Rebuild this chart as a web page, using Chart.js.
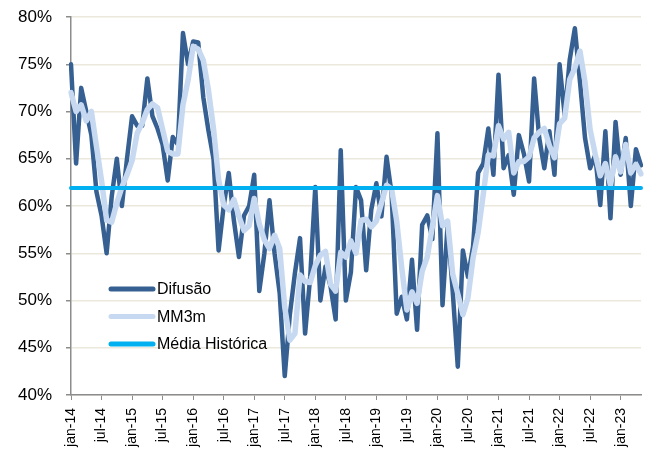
<!DOCTYPE html>
<html>
<head>
<meta charset="utf-8">
<script src="https://cdn.jsdelivr.net/npm/chart.js@4.4.0/dist/chart.umd.min.js"></script>
<style>
  html, body { margin: 0; padding: 0; background: #fff; }
  #chart { display: block; }
</style>
</head>
<body>
<canvas id="chart" width="650" height="456"></canvas>
<script>
// meses jan-14 .. mai-23
const meses = ['jan', 'fev', 'mar', 'abr', 'mai', 'jun', 'jul', 'ago', 'set', 'out', 'nov', 'dez'];
const labels = [];
for (let ano = 14; ano <= 23; ano++) {
    for (let m = 0; m < 12; m++) {
        if (ano === 23 && m > 4) break;
        labels.push(meses[m] + '-' + ano);
    }
}

// índice de difusão (%)
const difusao = [
    75.0, 64.5, 72.5, 70.0, 67.5, 61.5, 59.0, 55.0, 61.0, 65.0, 60.0, 65.0,
    69.5, 68.5, 68.5, 73.5, 69.5, 68.2, 66.5, 62.7, 67.3, 66.5, 78.3, 75.0,
    77.4, 77.3, 71.5, 68.0, 65.0, 55.3, 60.0, 63.5, 58.5, 54.6, 59.0, 60.0,
    63.3, 51.0, 55.0, 60.6, 55.0, 50.8, 42.0, 48.5, 52.9, 56.6, 46.5, 52.5,
    62.0, 50.0, 53.6, 51.5, 48.0, 65.9, 50.0, 53.0, 62.0, 60.6, 53.2, 59.6,
    62.4, 58.9, 65.2, 61.3, 48.6, 50.4, 48.0, 54.3, 46.9, 58.0, 59.0, 56.5,
    67.7, 49.5, 58.0, 51.0, 43.0, 55.3, 52.5, 55.7, 63.5, 64.5, 68.2, 63.3,
    73.9, 64.0, 65.4, 61.2, 67.5, 65.5, 62.6, 73.5, 67.2, 64.0, 67.9, 63.3,
    75.0, 69.6, 75.5, 78.8, 73.2, 67.2, 64.0, 65.4, 60.1, 67.9, 58.7, 68.9,
    63.3, 67.2, 60.0, 66.0, 64.3
];

// média móvel 3 meses (%)
const mm3m = [
    72.0, 70.0, 70.7, 69.0, 70.0, 66.3, 62.7, 58.5, 58.3, 60.3, 62.0, 63.3,
    64.8, 67.7, 68.8, 70.2, 70.8, 70.4, 68.1, 65.8, 65.5, 65.5, 70.7, 73.3,
    76.9, 76.6, 75.4, 72.3, 68.2, 62.8, 60.1, 59.6, 60.7, 58.9, 57.4, 57.9,
    60.8, 58.1, 56.4, 55.5, 56.9, 55.5, 49.3, 45.8, 46.5, 52.7, 52.0, 51.9,
    53.7, 54.8, 55.2, 51.7, 51.0, 55.1, 54.6, 56.3, 55.0, 58.5, 58.6, 57.8,
    58.4, 60.3, 62.2, 61.8, 58.4, 53.4, 49.0, 50.9, 49.7, 53.1, 54.6, 57.8,
    61.1, 57.9, 58.4, 52.8, 50.7, 48.5, 50.3, 54.5, 57.2, 61.2, 65.4, 65.3,
    68.5, 67.1, 67.8, 63.5, 64.7, 64.7, 65.2, 67.2, 67.8, 68.2, 66.4, 65.1,
    68.7, 69.3, 73.4, 74.6, 76.4, 73.1, 68.1, 65.5, 63.2, 64.5, 62.2, 65.2,
    63.6, 66.5, 63.5, 64.4, 63.4
];

const mediaHistorica = 61.9;

const corDifusao = '#366092';
const corMM3m = '#C6D9F1';
const corMedia = '#00B0F0';
const fonte = "'Liberation Sans', Arial, sans-serif";

// legenda desenhada dentro da área do gráfico
const legendaInterna = {
    id: 'legendaInterna',
    afterDraw(chart) {
        const ctx = chart.ctx;
        const x0 = 111, x1 = 153, xt = 157;
        let y = 289;
        ctx.save();
        ctx.font = '16px ' + fonte;
        ctx.textBaseline = 'middle';
        chart.data.datasets.forEach(ds => {
            ctx.strokeStyle = ds.borderColor;
            ctx.lineWidth = 5;
            ctx.lineCap = 'round';
            ctx.beginPath();
            ctx.moveTo(x0, y);
            ctx.lineTo(x1, y);
            ctx.stroke();
            ctx.fillStyle = '#000';
            ctx.fillText(ds.label, xt, y + 1);
            y += 27.5;
        });
        ctx.restore();
    }
};

new Chart(document.getElementById('chart').getContext('2d'), {
    type: 'line',
    data: {
        labels: labels,
        datasets: [{
            label: 'Difusão',
            data: difusao,
            borderColor: corDifusao,
            borderWidth: 4.5,
            order: 3
        }, {
            label: 'MM3m',
            data: mm3m,
            borderColor: corMM3m,
            borderWidth: 5.5,
            order: 2
        }, {
            label: 'Média Histórica',
            data: [
                { x: labels[0], y: mediaHistorica },
                { x: labels[labels.length - 1], y: mediaHistorica }
            ],
            borderColor: corMedia,
            borderWidth: 4,
            order: 1
        }]
    },
    options: {
        responsive: false,
        animation: false,
        layout: { padding: { top: 17, right: 9, left: 0, bottom: 0 } },
        elements: {
            point: { radius: 0 },
            line: { tension: 0, borderJoinStyle: 'round', borderCapStyle: 'round', fill: false }
        },
        plugins: {
            legend: { display: false },
            tooltip: { enabled: false }
        },
        scales: {
            x: {
                type: 'category',
                offset: false,
                grid: {
                    drawOnChartArea: false,
                    drawTicks: true,
                    tickLength: 5,
                    tickColor: '#8c8c8c'
                },
                border: { color: '#8c8c8c', width: 1.5 },
                ticks: {
                    autoSkip: false,
                    minRotation: 90,
                    maxRotation: 90,
                    padding: 8,
                    color: '#000',
                    font: { family: fonte, size: 14 },
                    callback: function (value) {
                        const lab = this.getLabelForValue(value);
                        return (lab.startsWith('jan') || lab.startsWith('jul')) ? lab : null;
                    }
                },
                afterFit(scale) {
                    scale.height = 61;
                    scale.paddingLeft = 0;
                    scale.paddingRight = 0;
                }
            },
            y: {
                min: 40,
                max: 80,
                grid: {
                    color: '#ECE8DC',
                    lineWidth: 1.5,
                    tickLength: 5,
                    tickColor: '#8c8c8c'
                },
                border: { color: '#8c8c8c', width: 1.5 },
                ticks: {
                    stepSize: 5,
                    padding: 14,
                    color: '#000',
                    font: { family: fonte, size: 17 },
                    callback: v => v + '%'
                },
                afterFit(scale) {
                    scale.width = 71;
                    scale.paddingTop = 0;
                    scale.paddingBottom = 0;
                }
            }
        }
    },
    plugins: [legendaInterna]
});
</script>
</body>
</html>
